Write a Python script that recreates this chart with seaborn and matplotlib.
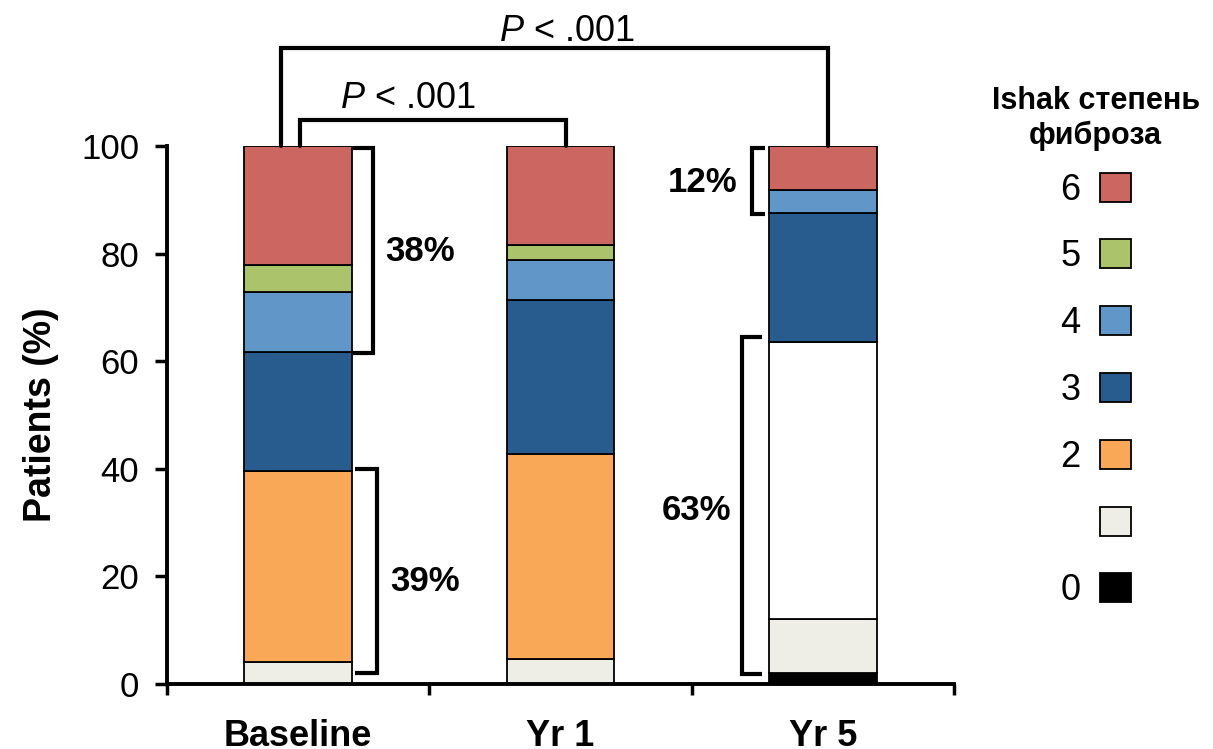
import matplotlib
matplotlib.use("Agg")
import matplotlib.pyplot as plt
import seaborn as sns
import numpy as np
from matplotlib.patches import Patch
from matplotlib.ticker import FixedLocator

# ---------------- data ----------------
timepoints = ["Baseline", "Yr 1", "Yr 5"]
grade_0 = [0.0, 0.0, 2.0]
grade_1 = [4.0, 4.6, 10.0]
grade_white = [0.0, 0.0, 51.6]      # unlabelled white segment shown at Yr 5
grade_2 = [35.5, 38.2, 0.0]
grade_3 = [22.2, 28.5, 24.0]
grade_4 = [11.1, 7.5, 4.2]
grade_5 = [5.0, 2.8, 0.0]
grade_6 = [22.2, 18.4, 8.2]

legend_labels = ["6", "5", "4", "3", "2", "", "0"]
legend_title = "Ishak степень\nфиброза"
bracket_labels = ["38%", "39%", "12%", "63%"]
p_label = "$P$ < .001"
y_label = "Patients (%)"
y_ticks = [0, 20, 40, 60, 80, 100]

# ---------------- style ----------------
sns.set_style("ticks")
plt.rcParams["font.family"] = ["Liberation Sans", "DejaVu Sans"]
plt.rcParams["mathtext.fontset"] = "custom"
plt.rcParams["mathtext.it"] = "Liberation Sans:italic"
plt.rcParams["mathtext.rm"] = "Liberation Sans"
for k in ["text.color", "axes.labelcolor", "xtick.color", "ytick.color", "axes.edgecolor"]:
    plt.rcParams[k] = "black"
narrow = ["Liberation Sans Narrow", "Liberation Sans"]

c0 = "#000000"
c1 = "#EEEEE6"
cw = "#FFFFFF"
c2 = "#F9A857"
c3 = "#285C8F"
c4 = "#6096C8"
c5 = "#ABC46B"
c6 = "#CC6660"

series = [(grade_0, c0), (grade_1, c1), (grade_white, cw), (grade_2, c2),
          (grade_3, c3), (grade_4, c4), (grade_5, c5), (grade_6, c6)]

fig = plt.figure(figsize=(12.13, 7.49), dpi=100)
ax = fig.add_axes([0.1377, 0.0868, 0.6488, 0.7183])

bottom = np.zeros(len(timepoints))
for vals, col in series:
    sns.barplot(x=timepoints, y=vals, bottom=bottom.copy(), color=col,
                width=0.41, edgecolor="black", linewidth=1.3, saturation=1,
                order=timepoints, ax=ax)
    bottom = bottom + np.array(vals)

ax.set_xlim(-0.5, 2.5)
ax.set_ylim(0, 100)
ax.set_yticks(y_ticks)
ax.set_yticklabels([str(t) for t in y_ticks], fontsize=25)
ax.set_xticks([0, 1, 2])
ax.set_xticklabels(timepoints, fontsize=26, fontweight="bold", family=narrow)
ax.xaxis.set_minor_locator(FixedLocator([-0.5, 0.5, 1.5, 2.5]))
ax.tick_params(axis="x", which="major", length=0, pad=25)
ax.tick_params(axis="x", which="minor", length=8, width=2.5, direction="out")
ax.tick_params(axis="y", which="major", length=9, width=2.5, direction="out", pad=11)
ax.set_ylabel(y_label, fontsize=27, fontweight="bold", labelpad=16)
ax.set_xlabel("")
for s in ["top", "right"]:
    ax.spines[s].set_visible(False)
for s in ["left", "bottom"]:
    ax.spines[s].set_linewidth(2.8)

# ---------------- brackets ----------------
lw = 3.0
def bracket(xv, xt, y0, y1):
    ax.plot([xt, xv, xv, xt], [y0, y0, y1, y1], color="black", lw=lw,
            clip_on=False, solid_joinstyle="miter", solid_capstyle="butt")

bracket(0.285, 0.208, 61.5, 99.6)
bracket(0.300, 0.215, 2.0, 40.0)
bracket(1.730, 1.779, 87.3, 99.6)
bracket(1.692, 1.768, 1.9, 64.5)

tk = dict(fontsize=25, fontweight="bold", family=narrow, ha="center", va="center")
ax.text(0.464, 80.3, bracket_labels[0], **tk)
ax.text(0.483, 19.0, bracket_labels[1], **tk)
ax.text(1.543, 93.2, bracket_labels[2], **tk)
ax.text(1.520, 32.3, bracket_labels[3], **tk)

# significance bars
ax.plot([0.007, 0.007, 1.02, 1.02], [100, 104.8, 104.8, 100], color="black",
        lw=lw, clip_on=False, solid_joinstyle="miter")
ax.plot([-0.065, -0.065, 2.02, 2.02], [100, 118.2, 118.2, 100], color="black",
        lw=lw, clip_on=False, solid_joinstyle="miter")
ax.text(0.42, 108.9, p_label, fontsize=26, ha="center", va="center", clip_on=False)
ax.text(1.025, 121.2, p_label, fontsize=26, ha="center", va="center", clip_on=False)

# ---------------- legend ----------------
leg_colors = [c6, c5, c4, c3, c2, c1, c0]
handles = [Patch(facecolor=c, edgecolor="black", linewidth=1.3) for c in leg_colors]
leg = ax.legend(handles, legend_labels, title=legend_title,
                loc="upper left", bbox_to_anchor=(0.8175, 0.885),
                bbox_transform=fig.transFigure, frameon=False, markerfirst=False,
                fontsize=26, handlelength=0.86, handleheight=0.86,
                labelspacing=0.88, handletextpad=0.55, borderaxespad=0,
                borderpad=0, title_fontproperties={"weight": "bold", "size": 22})
leg.get_title().set_multialignment("center")
leg._legend_box.sep = 15.5   # tighter gap between title and entries

fig.savefig("out.png", dpi=100)
